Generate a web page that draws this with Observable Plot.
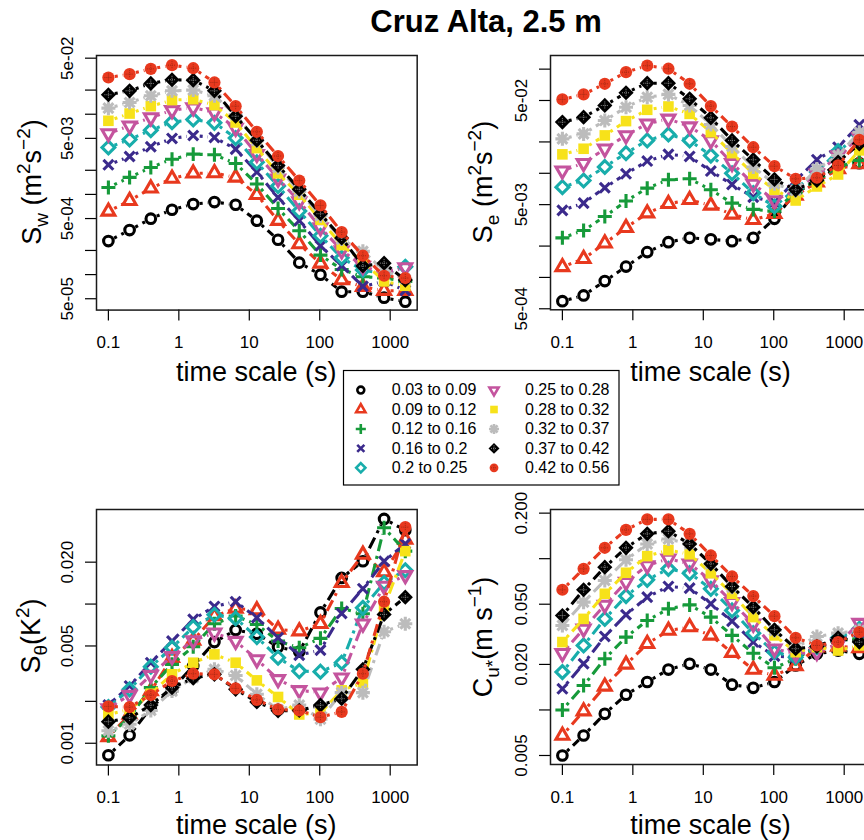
<!DOCTYPE html>
<html><head><meta charset="utf-8">
<script src="https://cdn.jsdelivr.net/npm/d3@7"></script>
<script src="https://cdn.jsdelivr.net/npm/@observablehq/plot@0.6"></script>
<style>
body{margin:0;background:#fff;}
#fig{position:relative;width:864px;height:840px;overflow:hidden;background:#fff;font-family:"Liberation Sans",Arial,Helvetica,sans-serif;}
.panel{position:absolute;}
.panel svg{overflow:visible;display:block;max-width:none !important;}
#overlay{position:absolute;left:0;top:0;}
</style></head><body><div id="fig"></div>
<script>
// ---------------- data ----------------
const timeScale = [0.1, 0.2, 0.4, 0.8, 1.6, 3.2, 6.4, 12.8, 25.6, 51.2, 102.4, 204.8, 409.6, 819.2, 1638.4];
const classes = ["0.03 to 0.09","0.09 to 0.12","0.12 to 0.16","0.16 to 0.2","0.2 to 0.25",
                 "0.25 to 0.28","0.28 to 0.32","0.32 to 0.37","0.37 to 0.42","0.42 to 0.56"];
const xTicks = [0.1, 1, 10, 100, 1000];
const xTickLabels = ["0.1", "1", "10", "100", "1000"];

const swTicks = [5e-2, 2e-2, 1e-2, 5e-3, 2e-3, 1e-3, 5e-4, 2e-4, 1e-4, 5e-5];
const swLabelAt = [5e-2, 5e-3, 5e-4, 5e-5];
const swLabels = ["5e-02", "5e-03", "5e-04", "5e-05"];
const seTicks = [1e-1, 5e-2, 2e-2, 1e-2, 5e-3, 2e-3, 1e-3, 5e-4];
const seLabelAt = [5e-2, 5e-3, 5e-4];
const seLabels = ["5e-02", "5e-03", "5e-04"];
const sthTicks = [0.02, 0.01, 0.005, 0.002, 0.001];
const sthLabelAt = [0.02, 0.005, 0.001];
const sthLabels = ["0.020", "0.005", "0.001"];
const cuTicks = [0.2, 0.1, 0.05, 0.02, 0.01, 0.005];
const cuLabelAt = [0.2, 0.05, 0.02, 0.005];
const cuLabels = ["0.200", "0.050", "0.020", "0.005"];

const Sw = [
 [2.62e-4,3.59e-4,4.98e-4,6.44e-4,7.57e-4,8.02e-4,7.43e-4,4.70e-4,2.72e-4,1.41e-4,9.97e-5,6.12e-5,6.12e-5,5.15e-5,4.59e-5],
 [6.14e-4,8.34e-4,1.19e-3,1.58e-3,1.83e-3,1.85e-3,1.63e-3,9.90e-4,4.70e-4,2.40e-4,1.38e-4,8.55e-5,7.06e-5,6.30e-5,6.30e-5],
 [1.22e-3,1.63e-3,2.17e-3,2.75e-3,3.18e-3,3.12e-3,2.43e-3,1.35e-3,6.68e-4,3.52e-4,1.75e-4,1.16e-4,9.41e-5,9.06e-5,8.23e-5],
 [2.34e-3,2.97e-3,3.93e-3,4.99e-3,5.43e-3,5.13e-3,3.67e-3,1.90e-3,9.16e-4,4.70e-4,2.29e-4,1.29e-4,7.13e-5,8.23e-5,6.35e-5],
 [3.85e-3,4.84e-3,6.33e-3,7.97e-3,8.60e-3,7.82e-3,5.04e-3,2.51e-3,1.27e-3,6.19e-4,3.05e-4,1.62e-4,1.14e-4,1.02e-4,1.25e-4],
 [5.75e-3,7.18e-3,9.10e-3,1.12e-2,1.21e-2,1.05e-2,6.71e-3,3.18e-3,1.57e-3,8.18e-4,3.87e-4,2.00e-4,1.28e-4,1.02e-4,1.23e-4],
 [8.28e-3,1.02e-2,1.26e-2,1.50e-2,1.54e-2,1.30e-2,7.89e-3,3.78e-3,1.83e-3,9.90e-4,4.83e-4,2.33e-4,1.46e-4,8.23e-5,7.26e-5],
 [1.19e-2,1.40e-2,1.70e-2,1.96e-2,2.00e-2,1.70e-2,9.84e-3,4.67e-3,2.17e-3,1.09e-3,5.42e-4,2.77e-4,1.95e-4,1.12e-4,8.81e-5],
 [1.75e-2,1.96e-2,2.42e-2,2.69e-2,2.66e-2,1.96e-2,9.46e-3,4.75e-3,2.30e-3,1.16e-3,5.74e-4,2.86e-4,1.28e-4,1.39e-4,8.55e-5],
 [2.87e-2,3.16e-2,3.68e-2,4.09e-2,3.75e-2,2.49e-2,1.26e-2,6.04e-3,3.01e-3,1.49e-3,7.29e-4,3.39e-4,1.72e-4,9.68e-5,9.06e-5]
];
const Se = [
 [5.92e-4,6.71e-4,9.22e-4,1.27e-3,1.75e-3,2.18e-3,2.40e-3,2.32e-3,2.23e-3,2.40e-3,3.65e-3,6.59e-3,8.22e-3,1.16e-2,1.25e-2],
 [1.26e-3,1.51e-3,2.13e-3,3.00e-3,4.14e-3,5.09e-3,5.56e-3,4.91e-3,4.03e-3,3.57e-3,4.08e-3,6.12e-3,8.22e-3,1.10e-2,1.23e-2],
 [2.40e-3,2.82e-3,3.85e-3,5.41e-3,7.20e-3,8.66e-3,8.85e-3,6.94e-3,5.17e-3,4.50e-3,4.33e-3,6.59e-3,8.53e-3,1.15e-2,1.33e-2],
 [4.40e-3,5.17e-3,7.26e-3,9.89e-3,1.31e-2,1.52e-2,1.45e-2,1.05e-2,7.81e-3,5.90e-3,5.28e-3,8.53e-3,1.35e-2,1.78e-2,2.92e-2],
 [7.36e-3,8.53e-3,1.15e-2,1.56e-2,2.07e-2,2.36e-2,2.07e-2,1.48e-2,1.00e-2,6.45e-3,4.80e-3,7.10e-3,1.03e-2,1.63e-2,2.31e-2],
 [1.06e-2,1.25e-2,1.72e-2,2.31e-2,2.99e-2,3.33e-2,2.81e-2,2.07e-2,1.25e-2,7.92e-3,5.48e-3,6.84e-3,9.89e-3,1.48e-2,2.22e-2],
 [1.52e-2,1.72e-2,2.31e-2,3.17e-2,4.07e-2,4.38e-2,3.72e-2,2.48e-2,1.56e-2,9.89e-3,6.94e-3,5.48e-3,7.47e-3,9.74e-3,1.66e-2],
 [2.14e-2,2.39e-2,3.21e-2,4.31e-2,5.38e-2,5.72e-2,4.48e-2,2.94e-2,1.81e-2,1.15e-2,7.92e-3,6.84e-3,1.10e-2,1.48e-2,2.48e-2],
 [3.10e-2,3.46e-2,4.48e-2,5.93e-2,7.33e-2,7.33e-2,5.19e-2,3.41e-2,2.07e-2,1.35e-2,8.73e-3,6.94e-3,8.53e-3,1.28e-2,1.92e-2],
 [5.12e-2,5.72e-2,7.23e-2,9.35e-2,1.08e-1,1.01e-1,7.23e-2,4.42e-2,2.81e-2,1.78e-2,1.17e-2,8.85e-3,9.06e-3,1.19e-2,2.10e-2]
];
const Stheta = [
 [8.20e-4,1.14e-3,1.80e-3,2.44e-3,3.59e-3,5.33e-3,6.50e-3,6.12e-3,4.91e-3,4.55e-3,8.71e-3,1.54e-2,2.03e-2,4.09e-2,3.39e-2],
 [1.11e-3,1.61e-3,2.37e-3,4.12e-3,5.48e-3,8.20e-3,9.30e-3,9.05e-3,6.57e-3,6.39e-3,7.22e-3,1.42e-2,2.27e-2,1.70e-2,2.91e-2],
 [1.13e-3,1.53e-3,2.51e-3,3.69e-3,4.94e-3,7.22e-3,8.20e-3,7.14e-3,5.42e-3,4.86e-3,5.67e-3,9.30e-3,8.52e-3,3.53e-2,2.40e-2],
 [1.88e-3,2.58e-3,3.79e-3,5.42e-3,7.76e-3,9.61e-3,1.04e-2,7.98e-3,5.73e-3,4.30e-3,4.67e-3,8.56e-3,1.29e-2,2.03e-2,2.71e-2],
 [1.82e-3,2.44e-3,3.55e-3,4.86e-3,6.83e-3,8.38e-3,7.89e-3,5.79e-3,4.12e-3,3.30e-3,3.27e-3,3.79e-3,9.40e-3,1.42e-2,1.75e-2],
 [1.78e-3,2.22e-3,3.09e-3,4.21e-3,5.48e-3,6.22e-3,5.42e-3,4.00e-3,2.88e-3,2.40e-3,2.31e-3,2.96e-3,7.22e-3,1.35e-2,1.61e-2],
 [1.61e-3,1.75e-3,2.27e-3,3.13e-3,3.79e-3,4.35e-3,3.79e-3,2.83e-3,2.15e-3,1.61e-3,1.65e-3,2.40e-3,2.72e-3,9.51e-3,2.40e-2],
 [1.23e-3,1.37e-3,1.72e-3,2.37e-3,2.96e-3,3.40e-3,3.07e-3,2.25e-3,1.75e-3,1.88e-3,1.49e-3,2.31e-3,2.31e-3,6.33e-3,7.22e-3],
 [1.43e-3,1.52e-3,1.88e-3,2.51e-3,2.93e-3,3.13e-3,2.44e-3,1.98e-3,1.71e-3,1.72e-3,1.88e-3,2.09e-3,3.40e-3,8.43e-3,1.12e-2],
 [1.84e-3,1.82e-3,2.22e-3,2.80e-3,3.16e-3,3.13e-3,2.48e-3,2.05e-3,1.75e-3,1.72e-3,1.54e-3,1.68e-3,3.16e-3,1.04e-2,3.57e-2]
];
const Cu = [
 [5.00e-3,6.78e-3,9.43e-3,1.26e-2,1.53e-2,1.85e-2,2.02e-2,1.85e-2,1.47e-2,1.40e-2,1.53e-2,1.97e-2,2.35e-2,2.47e-2,2.35e-2],
 [6.78e-3,9.82e-3,1.43e-2,2.00e-2,2.74e-2,3.35e-2,3.53e-2,3.11e-2,2.39e-2,1.85e-2,1.69e-2,1.95e-2,2.60e-2,2.63e-2,2.57e-2],
 [1.00e-2,1.45e-2,2.18e-2,3.03e-2,3.90e-2,4.66e-2,4.95e-2,4.11e-2,3.11e-2,2.37e-2,1.90e-2,2.18e-2,2.60e-2,2.88e-2,2.95e-2],
 [1.38e-2,2.02e-2,3.06e-2,4.26e-2,5.57e-2,6.55e-2,6.39e-2,5.03e-2,3.86e-2,2.81e-2,2.27e-2,2.23e-2,2.63e-2,2.88e-2,3.27e-2],
 [1.78e-2,2.67e-2,4.00e-2,5.66e-2,7.25e-2,8.57e-2,8.02e-2,6.32e-2,4.55e-2,3.22e-2,2.41e-2,2.23e-2,2.60e-2,3.00e-2,3.44e-2],
 [2.37e-2,3.44e-2,4.95e-2,7.00e-2,9.02e-2,9.98e-2,9.25e-2,7.18e-2,5.16e-2,3.71e-2,2.54e-2,2.35e-2,2.41e-2,2.74e-2,3.75e-2],
 [2.81e-2,4.00e-2,5.86e-2,8.07e-2,0.104,0.114,0.107,8.02e-2,5.86e-2,4.11e-2,3.11e-2,2.41e-2,2.60e-2,2.47e-2,2.67e-2],
 [3.62e-2,5.16e-2,7.18e-2,9.83e-2,0.125,0.135,0.125,9.25e-2,6.48e-2,4.78e-2,3.35e-2,2.60e-2,3.06e-2,3.22e-2,3.35e-2],
 [4.21e-2,6.23e-2,8.79e-2,0.118,0.146,0.152,0.125,9.25e-2,6.55e-2,4.78e-2,3.39e-2,2.54e-2,2.63e-2,3.00e-2,2.81e-2],
 [6.23e-2,8.57e-2,0.118,0.155,0.182,0.182,0.146,0.105,7.63e-2,5.66e-2,4.17e-2,3.00e-2,2.67e-2,2.81e-2,3.27e-2]
];

// ---------------- styles ----------------
const seriesColor = ["#000000","#e8391e","#169a3a","#3b2a8c","#18adab","#c4549e","#f7e21a","#bcbcbc","#000000","#e8391e"];
const seriesShape = ["circle","triUp","plus","times","diamond","triDown","square","star8","diamond","circle"];
const seriesFilled = [false,false,false,false,false,false,true,false,true,true];
const seriesR = [4.8, 7.4, 7, 7, 6.4, 7.4, 5.3, 7, 7.6, 6.1];

const symDraw = f => ({draw(ctx, size) { f(ctx, Math.sqrt(size / Math.PI)); }});
const SYM = {
  circle: symDraw((c, r) => { c.moveTo(r, 0); c.arc(0, 0, r, 0, 2 * Math.PI); c.closePath(); }),
  triUp: symDraw((c, r) => { c.moveTo(0, -r); c.lineTo(0.866 * r, 0.5 * r); c.lineTo(-0.866 * r, 0.5 * r); c.closePath(); }),
  triDown: symDraw((c, r) => { c.moveTo(0, r); c.lineTo(0.866 * r, -0.5 * r); c.lineTo(-0.866 * r, -0.5 * r); c.closePath(); }),
  plus: symDraw((c, r) => { c.moveTo(-r, 0); c.lineTo(r, 0); c.moveTo(0, -r); c.lineTo(0, r); }),
  times: symDraw((c, r) => { const a = r * 0.7071; c.moveTo(-a, -a); c.lineTo(a, a); c.moveTo(-a, a); c.lineTo(a, -a); }),
  diamond: symDraw((c, r) => { c.moveTo(0, -r); c.lineTo(r, 0); c.lineTo(0, r); c.lineTo(-r, 0); c.closePath(); }),
  square: symDraw((c, r) => { c.rect(-r, -r, 2 * r, 2 * r); }),
  star8: symDraw((c, r) => { const a = r * 0.7071; c.moveTo(-r, 0); c.lineTo(r, 0); c.moveTo(0, -r); c.lineTo(0, r);
                              c.moveTo(-a, -a); c.lineTo(a, a); c.moveTo(-a, a); c.lineTo(a, -a); })
};

const FONT = '"Liberation Sans", Arial, Helvetica, sans-serif';
const xDomain = [0.0678, 2416];
const PW = 320.7, ML = 96, MR = 24, MT = 20, MB = 56;

function seriesMarks(values) {
  const marks = [];
  values.forEach((vals, s) => {
    const pts = timeScale.map((t, i) => ({t, v: vals[i]}));
    const segs = pts.slice(1).map((p, i) => ({x1: pts[i].t, y1: pts[i].v, x2: p.t, y2: p.v}));
    marks.push(Plot.arrow(segs, {x1: "x1", y1: "y1", x2: "x2", y2: "y2", stroke: seriesColor[s],
      strokeWidth: 3.1, headLength: 0, insetStart: 6.5, insetEnd: 6.5,
      strokeDasharray: "3,5,12,5", strokeLinecap: "butt"}));
    marks.push(Plot.dot(pts, {x: "t", y: "v", symbol: SYM[seriesShape[s]], r: seriesR[s],
      fill: seriesFilled[s] ? seriesColor[s] : "none",
      stroke: seriesFilled[s] ? "none" : seriesColor[s], strokeWidth: 3.1}));
    if (s >= 8) {
      marks.push(Plot.dot(pts, {x: "t", y: "v", symbol: SYM.plus, r: 4,
        stroke: s === 8 ? "#8a8a8a" : "#a52a14", strokeWidth: 1, strokeDasharray: "1,1", fill: "none"}));
    }
  });
  return marks;
}

function panel(values, yDomain, yTicks, yLabelAt, yLabels, left, top, h) {
  const W = ML + PW + MR;
  const chart = Plot.plot({
    width: W, height: MT + h + MB,
    marginLeft: ML, marginRight: MR, marginTop: MT, marginBottom: MB,
    style: {background: "transparent", fontFamily: FONT, color: "black", overflow: "visible", maxWidth: "none"},
    x: {type: "log", domain: xDomain, label: null},
    y: {type: "log", domain: yDomain, label: null},
    marks: [
      Plot.axisX({ticks: xTicks, tickFormat: d => xTickLabels[xTicks.indexOf(d)], tickSize: 11,
        tickPadding: 15, fontSize: 17, label: null, strokeWidth: 1.2}),
      Plot.axisY({ticks: yTicks, tickFormat: () => "", tickSize: 11, label: null, strokeWidth: 1.2}),
      Plot.text(yLabelAt, {y: d => d, text: (d, i) => yLabels[i], frameAnchor: "left", rotate: -90,
        dx: -24, textAnchor: "middle", lineAnchor: "bottom", fontSize: 17, fill: "black"}),
      ...seriesMarks(values),
      Plot.frame({stroke: "#1a1a1a", strokeWidth: 1.5})
    ]
  });
  const div = document.createElement("div");
  div.className = "panel";
  div.style.left = (left - ML) + "px";
  div.style.top = (top - MT) + "px";
  div.style.width = W + "px";
  div.appendChild(chart);
  document.getElementById("fig").appendChild(div);
}

panel(Sw, [3.61e-5, 0.0540], swTicks, swLabelAt, swLabels, 96, 54.7, 254.6);
panel(Se, [4.89e-4, 0.1352], seTicks, seLabelAt, seLabels, 550.3, 55, 254.3);
panel(Stheta, [6.98e-4, 0.0478], sthTicks, sthLabelAt, sthLabels, 96, 508.5, 255.5);
panel(Cu, [4.36e-3, 0.2114], cuTicks, cuLabelAt, cuLabels, 550.3, 509, 255);

// ---------------- legend ----------------
const legendItems = classes.map((c, i) => ({c, s: i, col: Math.floor(i / 5), row: i % 5}));
const legendMarks = [Plot.frame({stroke: "black", strokeWidth: 1.2})];
legendItems.forEach(d => {
  legendMarks.push(Plot.dot([d], {x: "col", y: "row", symbol: SYM[seriesShape[d.s]], r: seriesR[d.s] * 0.72,
    fill: seriesFilled[d.s] ? seriesColor[d.s] : "none",
    stroke: seriesFilled[d.s] ? "none" : seriesColor[d.s], strokeWidth: 2.6}));
  if (d.s >= 8) legendMarks.push(Plot.dot([d], {x: "col", y: "row", symbol: SYM.plus, r: 3,
    stroke: d.s === 8 ? "#8a8a8a" : "#a52a14", strokeWidth: 1, strokeDasharray: "1,1", fill: "none"}));
});
legendMarks.push(Plot.text(legendItems, {x: "col", y: "row", text: "c", dx: 31, textAnchor: "start",
  lineAnchor: "middle", fontSize: 16, fill: "black"}));
const legend = Plot.plot({
  width: 275.5, height: 114.5, marginLeft: 0, marginRight: 0, marginTop: 0, marginBottom: 0,
  style: {background: "white", fontFamily: FONT, color: "black", overflow: "visible"},
  x: {domain: [0, 1], range: [17.3, 150.5], axis: null},
  y: {domain: [0, 4], range: [19.6, 97.3], axis: null},
  marks: legendMarks
});
const ldiv = document.createElement("div");
ldiv.className = "panel";
ldiv.style.left = "342.8px"; ldiv.style.top = "369.7px";
ldiv.appendChild(legend);
document.getElementById("fig").appendChild(ldiv);

// ---------------- titles ----------------
const svg = d3.select("#fig").append("svg").attr("id", "overlay").attr("width", 864).attr("height", 840)
  .style("font-family", FONT).style("pointer-events", "none");
svg.append("text").attr("x", 486).attr("y", 32).attr("text-anchor", "middle")
  .attr("font-size", 31).attr("font-weight", "bold").text("Cruz Alta, 2.5 m");
[[256.3, 381], [710.6, 381], [256.3, 834], [710.6, 834]].forEach(([x, y]) =>
  svg.append("text").attr("x", x).attr("y", y).attr("text-anchor", "middle").attr("font-size", 27).text("time scale (s)"));

function yTitle(x, y, parts) {
  const t = svg.append("text").attr("transform", `translate(${x},${y}) rotate(-90)`)
    .attr("text-anchor", "middle").attr("font-size", 27);
  let shift = 0;
  parts.forEach(([str, kind]) => {
    const target = kind === "sub" ? 7 : kind === "sup" ? -11 : 0;
    const ts = t.append("tspan").attr("dy", target - shift).text(str);
    if (kind) ts.attr("font-size", 19);
    shift = target;
  });
}
yTitle(41, 182, [["S"], ["w", "sub"], [" (m"], ["2", "sup"], ["s"], ["\u22122", "sup"], [")"]]);
yTitle(492, 182, [["S"], ["e", "sub"], [" (m"], ["2", "sup"], ["s"], ["\u22122", "sup"], [")"]]);
yTitle(40, 636, [["S"], ["\u03b8", "sub"], ["(K"], ["2", "sup"], [")"]]);
yTitle(492, 637, [["C"], ["u*", "sub"], ["(m s"], ["\u22121", "sup"], [")"]]);
</script></body></html>
